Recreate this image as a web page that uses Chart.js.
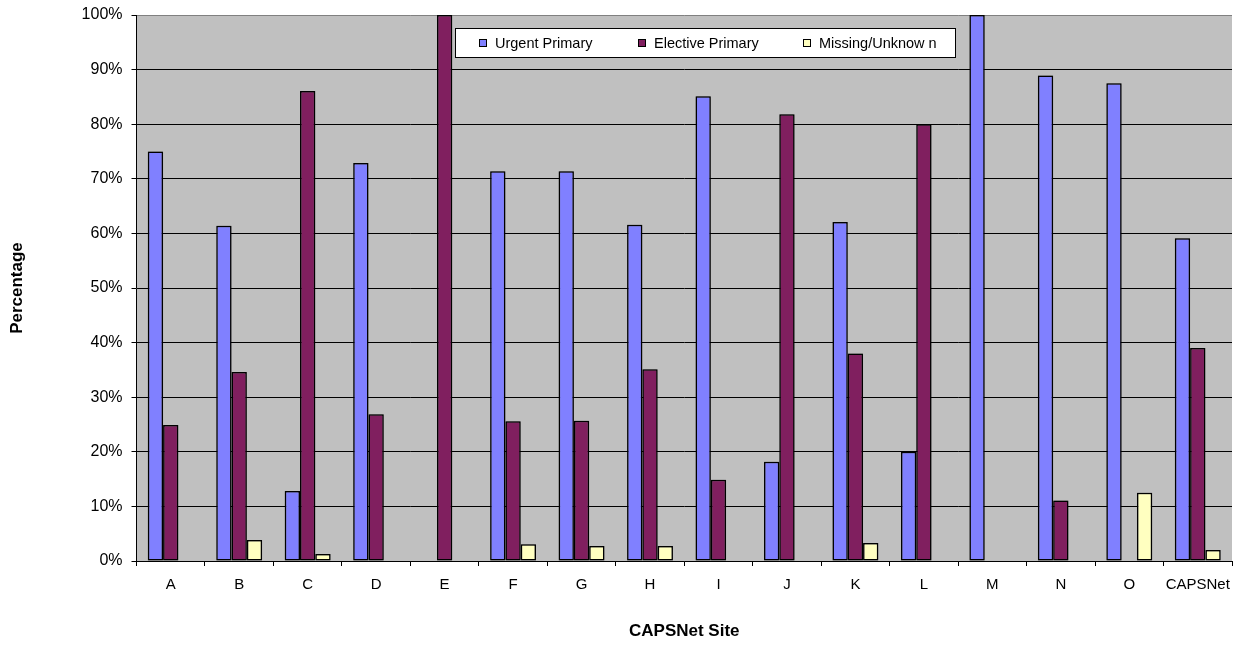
<!DOCTYPE html>
<html>
<head>
<meta charset="utf-8">
<script src="https://cdn.jsdelivr.net/npm/chart.js@4/dist/chart.umd.min.js"></script>
<style>
  html, body { margin: 0; padding: 0; background: #fff; }
  #wrap { width: 1233px; height: 645px; position: relative; }
</style>
</head>
<body>
<div id="wrap"><canvas id="c" width="1233" height="645"></canvas></div>
<script>
// Sites and the share of each admission type (percent)
const sites = ['A','B','C','D','E','F','G','H','I','J','K','L','M','N','O','CAPSNet'];
const urgentPrimary   = [75.0, 61.4, 12.8, 72.9, 0,   71.4, 71.4, 61.6, 85.1, 18.2, 62.1, 20.0, 100, 88.9, 87.5, 59.1];
const electivePrimary = [24.9, 34.6, 86.1, 26.9, 100, 25.6, 25.7, 35.1, 14.9, 81.8, 38.0, 80.0, 0,   11.1, 0,    39.0];
const missingUnknown  = [0,    3.85, 1.3,  0,    0,   3.05, 2.75, 2.75, 0,    0,    3.3,  0,    0,   0,    12.5, 2.0];
const seriesNames = ['Urgent Primary', 'Elective Primary', 'Missing/Unknow n'];
const yTicks = [0, 10, 20, 30, 40, 50, 60, 70, 80, 90, 100];

const FONT = '"Liberation Sans", Arial, sans-serif';

// grey plot background behind the gridlines
const plotBackground = {
  id: 'plotBackground',
  beforeDraw(chart) {
    const {ctx, chartArea: a} = chart;
    ctx.save();
    ctx.fillStyle = '#C0C0C0';
    ctx.fillRect(a.left, a.top, a.right - a.left, a.bottom - a.top);
    ctx.restore();
  }
};

// soft shadow around the bars
const barShadow = {
  id: 'barShadow',
  beforeDatasetsDraw(chart) {
    const ctx = chart.ctx;
    ctx.save();
    ctx.shadowColor = 'rgba(0,0,0,0.45)';
    ctx.shadowBlur = 2;
    ctx.shadowOffsetX = 0;
    ctx.shadowOffsetY = 0;
  },
  afterDatasetsDraw(chart) {
    chart.ctx.restore();
  }
};

// boxed legend drawn inside the plot area
const boxLegend = {
  id: 'boxLegend',
  afterDatasetsDraw(chart) {
    const ctx = chart.ctx;
    const box = {x: 455.5, y: 28.5, w: 500, h: 29};
    const markerX = [479, 638, 803];
    ctx.save();
    ctx.fillStyle = '#fff';
    ctx.fillRect(box.x, box.y, box.w, box.h);
    ctx.strokeStyle = '#000';
    ctx.lineWidth = 1;
    ctx.strokeRect(box.x, box.y, box.w, box.h);
    ctx.font = '14.5px ' + FONT;
    ctx.textBaseline = 'middle';
    ctx.textAlign = 'left';
    const cy = box.y + box.h / 2;
    chart.data.datasets.forEach((ds, i) => {
      const mx = markerX[i];
      ctx.fillStyle = ds.backgroundColor;
      ctx.fillRect(mx + 0.5, cy - 3.5, 7, 7);
      ctx.strokeStyle = '#000';
      ctx.strokeRect(mx + 0.5, cy - 3.5, 7, 7);
      ctx.fillStyle = '#000';
      ctx.fillText(ds.label, mx + 16, cy + 1);
    });
    ctx.restore();
  }
};

const barStyle = {borderColor: '#000', borderWidth: 1.5, borderSkipped: false,
  categoryPercentage: 0.67, barPercentage: 1.0};

new Chart(document.getElementById('c'), {
  type: 'bar',
  data: {
    labels: sites,
    datasets: [
      Object.assign({label: seriesNames[0], data: urgentPrimary, backgroundColor: '#8080FF'}, barStyle),
      Object.assign({label: seriesNames[1], data: electivePrimary, backgroundColor: '#801F5F'}, barStyle),
      Object.assign({label: seriesNames[2], data: missingUnknown, backgroundColor: '#FFFFC0'}, barStyle)
    ]
  },
  options: {
    responsive: false,
    animation: false,
    devicePixelRatio: 1,
    layout: {padding: {left: 0, right: 1, top: 15, bottom: 0}},
    plugins: {legend: {display: false}, tooltip: {enabled: false}},
    scales: {
      x: {
        offset: true,
        grid: {offset: true, drawOnChartArea: false, drawTicks: true, tickLength: 5, color: '#000'},
        border: {color: '#000', width: 1},
        ticks: {color: '#000', font: {family: FONT, size: 15}, padding: 10, maxRotation: 0, autoSkip: false},
        title: {display: true, text: 'CAPSNet Site', color: '#000',
          font: {family: FONT, size: 17, weight: 'bold'}, padding: {top: 0, bottom: 3}},
        afterFit(scale) {
          scale.height = 84;
          scale.paddingLeft = 0;
          scale.paddingRight = 0;
        }
      },
      y: {
        min: 0, max: 100,
        afterBuildTicks(scale) { scale.ticks = yTicks.map(v => ({value: v})); },
        grid: {color: ctx => (ctx.tick && ctx.tick.value === 100) ? '#808080' : '#000',
          tickColor: '#000', tickLength: 5, drawTicks: true},
        border: {color: '#000', width: 1},
        ticks: {color: '#000', font: {family: FONT, size: 16}, padding: 9,
          callback: v => v + '%'},
        title: {display: true, text: 'Percentage', color: '#000',
          font: {family: FONT, size: 17, weight: 'bold'}, padding: {top: 7, bottom: 0}},
        afterFit(scale) {
          scale.width = 136.5;
          scale.paddingTop = 0;
          scale.paddingBottom = 0;
        }
      }
    }
  },
  plugins: [plotBackground, barShadow, boxLegend]
});
</script>
</body>
</html>
